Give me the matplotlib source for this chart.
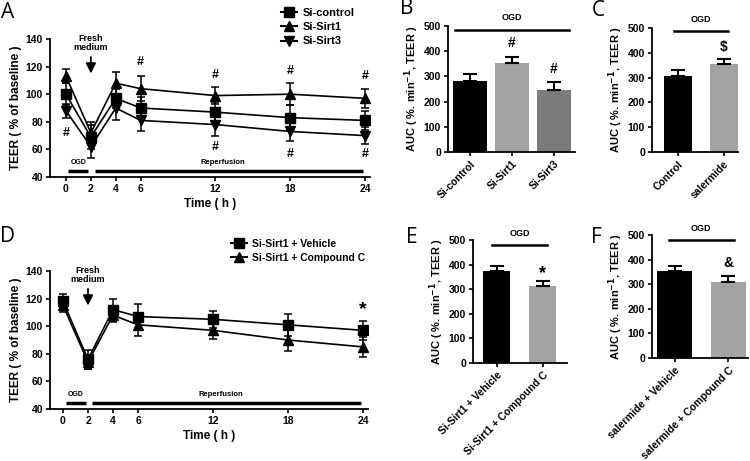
import numpy as np
import matplotlib.pyplot as plt
from matplotlib.lines import Line2D

plt.rcParams["font.family"] = ["Liberation Sans", "DejaVu Sans"]
plt.rcParams["font.weight"] = "bold"
plt.rcParams["axes.linewidth"] = 1.3

# ---- data ----
time_h = [0, 2, 4, 6, 12, 18, 24]

a_names = ["Si-control", "Si-Sirt1", "Si-Sirt3"]
a_means = [
    [100, 69, 97, 90, 87, 83, 81],
    [113, 72, 108, 104, 99, 100, 97],
    [88, 62, 90, 81, 78, 73, 70],
]
a_errs = [
    [8, 9, 7, 8, 7, 9, 7],
    [5, 8, 8, 9, 6, 8, 7],
    [5, 8, 9, 8, 8, 7, 6],
]
a_hash_x = [0, 6, 12, 18, 24, 12, 18, 24]
a_hash_y = [72, 123, 114, 116.5, 113, 62, 56.5, 56.5]

d_names = ["Si-Sirt1 + Vehicle", "Si-Sirt1 + Compound C"]
d_means = [
    [118, 76, 112, 107, 105, 101, 97],
    [115, 74, 108, 101, 97, 90, 85],
]
d_errs = [
    [5, 7, 8, 9, 6, 8, 7],
    [5, 5, 5, 8, 6, 8, 7],
]

b_labels = ["Si-control", "Si-Sirt1", "Si-Sirt3"]
b_vals = [282, 353, 246]
b_errs = [27, 24, 33]
b_marks = ["", "#", "#"]
b_mark_y = [0, 431, 329]

c_labels = ["Control", "salermide"]
c_vals = [307, 355]
c_errs = [23, 20]
c_marks = ["", "$"]
c_mark_y = [0, 422]

e_labels = ["Si-Sirt1 + Vehicle", "Si-Sirt1 + Compound C"]
e_vals = [374, 312]
e_errs = [22, 21]
e_marks = ["", "*"]
e_mark_y = [0, 362]

f_labels = ["salermide + Vehicle", "salermide + Compound C"]
f_vals = [353, 310]
f_errs = [21, 24]
f_marks = ["", "&"]
f_mark_y = [0, 385]

W, H = 750, 461
fig = plt.figure(figsize=(W / 100, H / 100), dpi=100)


def px_axes(l, t, r, b):
    return fig.add_axes([l / W, 1 - b / H, (r - l) / W, (b - t) / H])


def style(ax):
    for s in ("top", "right"):
        ax.spines[s].set_visible(False)
    ax.tick_params(labelsize=7.5, width=1.2, length=3, pad=2)
    for lab in ax.get_xticklabels() + ax.get_yticklabels():
        lab.set_fontweight("bold")


def time_panel(ax, means, errs, names, markers, xlim, legend_x, legend_size):
    handles = []
    for m, e, n, mk in zip(means, errs, names, markers):
        ax.errorbar(time_h, m, yerr=e, color="black", marker=mk, markersize=6.5,
                    lw=1.2, capsize=3, elinewidth=1.1, capthick=1.1)
        handles.append(Line2D([], [], color="black", marker=mk, markersize=6.5, lw=1.5, label=n))
    ax.set_xlim(*xlim)
    ax.set_ylim(40, 140)
    ax.set_xticks(time_h)
    ax.set_yticks(range(40, 141, 20))
    ax.set_xlabel("Time ( h )", fontsize=8.5, fontweight="bold", labelpad=3)
    ax.set_ylabel("TEER ( % of baseline )", fontsize=8.5, fontweight="bold", labelpad=3)
    # OGD / reperfusion bars
    ax.plot([0.2, 1.8], [44.4, 44.4], color="black", lw=2.5, solid_capstyle="butt")
    ax.plot([2.3, 23.8], [44.4, 44.4], color="black", lw=2.5, solid_capstyle="butt")
    ax.text(1.0, 48, "OGD", ha="center", va="bottom", fontsize=5, fontweight="bold")
    ax.text(12.6, 48, "Reperfusion", ha="center", va="bottom", fontsize=5.5, fontweight="bold")
    ax.text(2, 137, "Fresh\nmedium", ha="center", va="center", fontsize=6.5, fontweight="bold",
            linespacing=1.1)
    ax.annotate("", xy=(2, 113), xytext=(2, 129),
                arrowprops=dict(arrowstyle="-|>", color="black", lw=1.3, mutation_scale=15))
    ax.legend(handles=handles, loc="upper left", bbox_to_anchor=(legend_x, 1.3), frameon=False,
              handlelength=1.5, handletextpad=0.5, labelspacing=0.4,
              prop={"weight": "bold", "size": legend_size})
    style(ax)


def bar_panel(ax, labels, vals, errs, colors, width, xlim, marks, mark_y, ogd_y, ogd_pad):
    x = np.arange(len(vals))
    ax.bar(x, vals, width=width, color=colors, edgecolor="none")
    ax.errorbar(x, vals, yerr=[np.zeros(len(vals)), errs], fmt="none", ecolor="black",
                elinewidth=1.5, capsize=5, capthick=1.5)
    for xi, mk, my in zip(x, marks, mark_y):
        if mk:
            ax.text(xi, my, mk, ha="center", va="center", fontsize=10 if mk != "*" else 13,
                    fontweight="bold")
    ax.plot([x[0] - ogd_pad, x[-1] + ogd_pad], [ogd_y, ogd_y], color="black", lw=1.8,
            clip_on=False)
    ax.text((x[0] + x[-1]) / 2, ogd_y + 30, "OGD", ha="center", va="bottom", fontsize=6.5,
            fontweight="bold", clip_on=False)
    ax.set_xlim(*xlim)
    ax.set_ylim(0, 500)
    ax.set_yticks(range(0, 501, 100))
    ax.set_xticks(x)
    ax.set_xticklabels(labels, rotation=45, ha="right", rotation_mode="anchor")
    ax.set_ylabel("AUC ( %. min$^{\\mathbf{-1}}$, TEER )", fontsize=8, fontweight="bold",
                  labelpad=2)
    style(ax)


axA = px_axes(50, 39, 370, 177)
time_panel(axA, a_means, a_errs, a_names, ["s", "^", "v"], (-1.28, 24.4), 0.69, 8)
for hx, hy in zip(a_hash_x, a_hash_y):
    axA.text(hx, hy, "#", ha="center", va="center", fontsize=9, fontweight="bold")

axD = px_axes(50, 271, 368, 409)
time_panel(axD, d_means, d_errs, d_names, ["s", "^"], (-1.04, 24.4), 0.54, 7.5)
axD.text(24, 112, "*", ha="center", va="center", fontsize=14, fontweight="bold")

axB = px_axes(448, 26, 575, 152)
bar_panel(axB, b_labels, b_vals, b_errs, ["#000000", "#a3a3a3", "#7b7b7b"], 0.8,
          (-0.52, 2.5), b_marks, b_mark_y, 486, 0.35)

axC = px_axes(652, 28, 738, 152)
bar_panel(axC, c_labels, c_vals, c_errs, ["#000000", "#a3a3a3"], 0.62,
          (-0.58, 1.31), c_marks, c_mark_y, 487, 0.1)

axE = px_axes(473, 240, 567, 363)
bar_panel(axE, e_labels, e_vals, e_errs, ["#000000", "#a3a3a3"], 0.6,
          (-0.51, 1.53), e_marks, e_mark_y, 480, 0.1)

axF = px_axes(652, 235, 748, 358)
bar_panel(axF, f_labels, f_vals, f_errs, ["#000000", "#a3a3a3"], 0.65,
          (-0.42, 1.37), f_marks, f_mark_y, 480, 0.1)

for letter, lx, ly in [("A", 8, 12), ("B", 407, 9), ("C", 598, 10),
                       ("D", 8, 236), ("E", 412, 237), ("F", 596, 237)]:
    fig.text(lx / W, 1 - ly / H, letter, fontsize=15, fontweight="normal",
             family=["Open Sans", "DejaVu Sans"], ha="center", va="center")

fig.savefig("out.png", dpi=100)
